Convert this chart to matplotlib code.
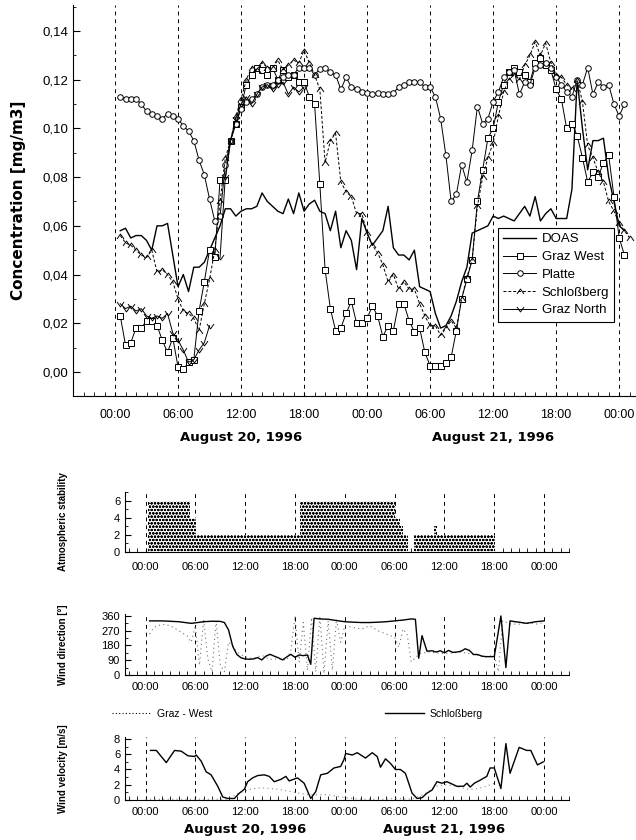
import numpy as np
import matplotlib
matplotlib.use('Agg')
import matplotlib.pyplot as plt
from matplotlib.path import Path
from matplotlib.lines import Line2D
from matplotlib.ticker import MultipleLocator, FuncFormatter

plt.rcParams['font.family'] = ['Liberation Sans', 'DejaVu Sans']
plt.rcParams['hatch.linewidth'] = 0.7

# ---------------------------------------------------------------- data
# hours since 00:00 August 20, 1996; half-hourly samples from 00:30
hour_ticks = [0, 6, 12, 18, 24, 30, 36, 42, 48]
hour_labels = ['00:00', '06:00', '12:00', '18:00', '00:00',
               '06:00', '12:00', '18:00', '00:00']
day_labels = ['August 20, 1996', 'August 21, 1996']
day_centers = [12, 36]

doas = [0.058, 0.059, 0.055, 0.056, 0.056, 0.054, 0.050, 0.060, 0.060, 0.061,
        0.048, 0.035, 0.040, 0.033, 0.043, 0.043, 0.045, 0.050, 0.055, 0.060,
        0.067, 0.067, 0.064, 0.066, 0.067, 0.067, 0.068, 0.0735, 0.070, 0.068,
        0.066, 0.065, 0.071, 0.065, 0.0735, 0.066, 0.069, 0.0705, 0.066, 0.065,
        0.058, 0.066, 0.051, 0.058, 0.054, 0.042, 0.063, 0.057, 0.052, 0.055,
        0.058, 0.068, 0.051, 0.048, 0.048, 0.046, 0.050, 0.035, 0.034, 0.033,
        0.024, 0.018, 0.019, 0.023, 0.029, 0.037, 0.043, 0.057, 0.058, 0.059,
        0.060, 0.064, 0.063, 0.064, 0.063, 0.062, 0.065, 0.068, 0.064, 0.072,
        0.062, 0.065, 0.067, 0.063, 0.063, 0.063, 0.075, 0.120, 0.100, 0.083,
        0.095, 0.095, 0.096, 0.080, 0.070, 0.060, 0.058]

graz_west = [0.023, 0.011, 0.012, 0.018, 0.018, 0.021, 0.021, 0.019, 0.013, 0.008,
             0.014, 0.002, 0.001, 0.004, 0.005, 0.025, 0.037, 0.050, 0.047, 0.079,
             0.079, 0.095, 0.102, 0.109, 0.118, 0.122, 0.125, 0.124, 0.122, 0.125,
             0.120, 0.124, 0.121, 0.122, 0.119, 0.119, 0.113, 0.110, 0.077, 0.042,
             0.026, 0.017, 0.018, 0.024, 0.029, 0.020, 0.020, 0.022, 0.027, 0.023,
             0.0145, 0.019, 0.017, 0.028, 0.028, 0.021, 0.0165, 0.018, 0.008, 0.0025,
             0.0025, 0.0025, 0.0035, 0.006, 0.017, 0.030, 0.038, 0.046, 0.070, 0.083,
             0.096, 0.100, 0.111, 0.118, 0.123, 0.125, 0.123, 0.122, 0.119, 0.127,
             0.129, 0.126, 0.124, 0.116, 0.112, 0.100, 0.102, 0.097, 0.088, 0.078,
             0.082, 0.080, 0.086, 0.089, 0.072, 0.055, 0.048]

platte = [0.113, 0.112, 0.112, 0.112, 0.110, 0.107, 0.106, 0.105, 0.104, 0.106,
          0.105, 0.104, 0.101, 0.099, 0.095, 0.087, 0.081, 0.071, 0.062, 0.064,
          0.085, 0.095, 0.102, 0.108, 0.111, 0.112, 0.114, 0.117, 0.118, 0.118,
          0.120, 0.121, 0.122, 0.122, 0.125, 0.125, 0.125, 0.122, 0.1245, 0.125,
          0.123, 0.122, 0.116, 0.121, 0.117, 0.116, 0.115, 0.1145, 0.114, 0.1145,
          0.114, 0.114, 0.1145, 0.117, 0.118, 0.119, 0.119, 0.119, 0.117, 0.117,
          0.113, 0.104, 0.089, 0.070, 0.073, 0.085, 0.078, 0.091, 0.109, 0.102,
          0.104, 0.111, 0.115, 0.121, 0.123, 0.124, 0.114, 0.119, 0.118, 0.125,
          0.126, 0.127, 0.125, 0.121, 0.118, 0.115, 0.113, 0.120, 0.118, 0.125,
          0.114, 0.119, 0.117, 0.118, 0.110, 0.105, 0.110]

schlossberg = [0.056, 0.053, 0.052, 0.050, 0.048, 0.047, 0.050, 0.041, 0.042, 0.040,
               0.037, 0.030, 0.025, 0.024, 0.022, 0.017, 0.028, 0.038, 0.050, 0.070,
               0.088, 0.095, 0.105, 0.112, 0.120, 0.125, 0.124, 0.127, 0.125, 0.125,
               0.128, 0.124, 0.126, 0.128, 0.127, 0.132, 0.127, 0.122, 0.116, 0.086,
               0.095, 0.098, 0.078, 0.074, 0.072, 0.065, 0.065, 0.057, 0.052, 0.049,
               0.044, 0.037, 0.040, 0.034, 0.037, 0.034, 0.034, 0.028, 0.023, 0.019,
               0.019, 0.015, 0.018, 0.021, 0.018, 0.030, 0.039, 0.046, 0.068, 0.080,
               0.088, 0.094, 0.105, 0.115, 0.120, 0.122, 0.120, 0.126, 0.130, 0.1355,
               0.130, 0.135, 0.127, 0.122, 0.121, 0.118, 0.116, 0.120, 0.111, 0.093,
               0.088, 0.082, 0.078, 0.070, 0.066, 0.061, 0.058, 0.055]

graz_north = [0.028, 0.026, 0.027, 0.025, 0.026, 0.023, 0.022, 0.023, 0.022, 0.024,
              0.016, 0.013, 0.009, 0.004, 0.005, 0.009, 0.012, 0.019, np.nan, 0.047,
              0.080, 0.095, 0.104, 0.110, 0.113, 0.110, 0.114, 0.117, 0.118, 0.116,
              0.118, 0.119, 0.114, 0.117, 0.115, 0.117]

# atmospheric stability class blocks (start hour, end hour, class)
stab_start = [0.25, 5.3, 6.1, 18.6, 30.1, 30.6, 31.0, 32.3, 34.8, 35.1]
stab_end = [5.3, 6.1, 18.6, 30.1, 30.6, 31.0, 31.6, 34.8, 35.1, 42.1]
stab_class = [6, 4, 2, 6, 4, 3, 2, 2, 3, 2]

# wind direction [deg]
dir_s_t = [0.5, 2, 4, 5.5, 6, 7, 8, 9, 9.5, 10, 10.5, 11, 11.5, 12, 12.5, 13, 13.5,
           14, 14.5, 15, 15.5, 16, 16.5, 17, 17.5, 18, 18.5, 19, 19.5, 19.9, 20.3,
           21, 22, 23, 24, 25, 26, 27, 28, 29, 30, 31, 32, 32.5, 32.9, 33.3, 33.9,
           34.5, 35, 35.5, 36, 36.5, 37, 37.5, 38, 38.5, 39, 39.5, 40, 40.5, 41, 42,
           42.8, 43.4, 43.9, 44.5, 45, 45.9, 47, 48]
dir_s = [330, 330, 325, 315, 318, 325, 328, 327, 320, 275, 175, 125, 105, 98, 96, 98,
         106, 92, 115, 126, 115, 105, 92, 110, 126, 108, 122, 118, 122, 65, 346,
         342, 340, 332, 325, 322, 320, 320, 322, 325, 330, 335, 342, 340, 102, 240,
         145, 148, 140, 148, 135, 150, 138, 140, 145, 160, 150, 125, 125, 115, 112,
         112, 360, 45, 330, 325, 322, 315, 325, 330]
dir_w_t = [0.5, 1, 2, 3, 4, 5, 5.5, 6, 6.5, 7, 7.5, 8, 8.5, 9, 9.5, 10, 10.5, 11,
           12, 13, 14, 15, 16, 17, 17.5, 18, 18.5, 19, 19.5, 20, 20.5, 21, 21.5, 22,
           22.5, 23, 23.5, 24, 25, 26, 27, 28, 29, 30, 30.5, 31, 31.5, 32, 33, 34,
           36, 38, 40, 41, 42, 42.5, 43, 44, 45, 46, 47, 48]
dir_w = [250, 290, 310, 300, 270, 240, 200, 300, 60, 340, 100, 20, 330, 60, 20, 200,
         180, 140, 110, 100, 120, 95, 100, 90, 150, 360, 80, 320, 30, 350, 20, 360,
         10, 330, 30, 340, 200, 300, 290, 280, 300, 270, 250, 230, 170, 280, 250, 80,
         130, 140, 130, 140, 120, 110, 120, 20, 330, 310, 310, 320, 310, 320]

# wind velocity [m/s]
vel_s_t = [0.6, 1.3, 2.5, 3.5, 4.3, 5.1, 5.9, 6.1, 6.7, 7.3, 7.9, 8.7, 9.3, 9.9,
           10.7, 11.3, 11.9, 12.3, 12.9, 13.5, 14.3, 14.9, 15.5, 16.3, 16.9, 17.3,
           18.3, 19.1, 19.9, 20.5, 21.1, 21.9, 22.7, 23.5, 23.9, 24.1, 24.9, 25.5,
           26.5, 27.3, 27.9, 28.3, 28.9, 29.5, 30.1, 30.7, 31.3, 32.1, 32.7, 33.3,
           33.9, 34.5, 35.1, 35.7, 36.3, 37.5, 38.3, 38.7, 39.1, 39.6, 40.3, 41.1,
           41.5, 42.0, 42.8, 43.4, 43.9, 45.0, 45.9, 46.4, 47.2, 47.9]
vel_s = [6.5, 6.5, 4.9, 6.5, 6.4, 5.8, 5.7, 5.9, 5.1, 3.7, 3.3, 1.8, 0.4, 0.2, 0.2,
         0.9, 1.4, 2.4, 2.9, 3.2, 3.3, 3.1, 2.4, 2.7, 3.1, 2.5, 2.9, 2.2, 0.2, 1.1,
         3.3, 3.5, 4.2, 4.4, 5.3, 6.1, 5.9, 6.2, 5.5, 6.2, 5.7, 4.3, 5.4, 4.8, 4.0,
         4.0, 3.5, 0.9, 0.2, 0.3, 0.9, 1.3, 2.4, 2.2, 2.4, 1.8, 1.8, 2.2, 1.7, 2.2,
         2.6, 3.1, 4.2, 4.2, 1.5, 7.4, 3.5, 6.9, 6.5, 6.5, 4.6, 5.0]
vel_w_t = [0, 2, 4, 6, 8, 10, 11, 12, 13, 14, 15, 16, 17, 18, 19, 20, 21, 22, 23, 24,
           26, 29, 30, 32, 33, 34, 35, 36, 37, 38, 39, 40, 41, 42]
vel_w = [0.1, 0.1, 0.1, 0.1, 0.1, 0.1, 0.8, 1.2, 1.5, 1.6, 1.5, 1.4, 1.2, 1.0, 0.8,
         0.7, 0.7, 0.7, 0.5, 0.3, 0.1, 0.1, 0.2, 0.1, 0.5, 1.0, 1.8, 2.0, 1.9, 1.6,
         1.4, 1.5, 1.8, 2.2]

# ---------------------------------------------------------------- figure
fig = plt.figure(figsize=(6.36, 8.40), dpi=100)

chev_up = Path([(-1.0, -0.7), (0.0, 0.7), (1.0, -0.7)],
               [Path.MOVETO, Path.LINETO, Path.LINETO])
chev_dn = Path([(-1.0, 0.7), (0.0, -0.7), (1.0, 0.7)],
               [Path.MOVETO, Path.LINETO, Path.LINETO])


def half_hours(vals):
    return 0.5 + 0.5 * np.arange(len(vals))


def style_time_axis(ax, pad):
    for s in ['top', 'right']:
        ax.spines[s].set_visible(False)
    ax.set_xticks(hour_ticks)
    ax.set_xticklabels(hour_labels)
    ax.xaxis.set_minor_locator(MultipleLocator(1))
    ax.tick_params(axis='x', which='both', direction='in', length=3, pad=pad)
    ax.tick_params(axis='y', which='major', direction='in', length=4)
    ax.tick_params(axis='y', which='minor', direction='in', length=2)
    for h in hour_ticks:
        ax.axvline(h, color='k', ls=(0, (4, 4)), lw=0.7, zorder=0.5)


################################ concentration ###################
ax = fig.add_axes([73 / 636, 1 - 396 / 840, 563 / 636, 391 / 840])
style_time_axis(ax, 9)
ax.tick_params(axis='x', labelsize=9)
ax.tick_params(axis='y', labelsize=9.5, length=5)

ax.plot(half_hours(doas), doas, 'k-', lw=1.0, label='DOAS')
ax.plot(half_hours(graz_west), graz_west, 'k-', lw=0.7, marker='s', ms=4,
        mfc='white', mew=0.7, label='Graz West')
ax.plot(half_hours(platte), platte, 'k-', lw=0.7, marker='o', ms=4,
        mfc='white', mew=0.7, label='Platte')
ax.plot(half_hours(schlossberg), schlossberg, color='k', ls=(0, (3, 2)), lw=0.7,
        marker=chev_up, ms=5, mfc='none', mew=0.7, label='Schloßberg')
ax.plot(half_hours(graz_north), graz_north, 'k-', lw=0.7,
        marker=chev_dn, ms=5, mfc='none', mew=0.7, label='Graz North')

ax.set_xlim(-4, 49.6)
ax.set_ylim(-0.0099, 0.1507)
ax.set_yticks([0.0, 0.02, 0.04, 0.06, 0.08, 0.10, 0.12, 0.14])
ax.yaxis.set_major_formatter(FuncFormatter(lambda v, p: ('%.2f' % v).replace('.', ',')))
ax.yaxis.set_minor_locator(MultipleLocator(0.01))
ax.set_ylabel('Concentration [mg/m3]', family='DejaVu Sans', fontweight='bold',
              fontsize=11, labelpad=12)

for c, lab in zip(day_centers, day_labels):
    ax.text(c, -0.105, lab, transform=ax.get_xaxis_transform(), ha='center',
            va='center', family='DejaVu Sans', fontweight='bold', fontsize=9.5)

lg = ax.legend(loc='upper left', bbox_to_anchor=(0.755, 0.43), borderaxespad=0,
               fontsize=9.5, handlelength=2.5, handletextpad=0.4,
               labelspacing=0.42, fancybox=False, edgecolor='k', framealpha=1)
lg.get_frame().set_linewidth(0.8)

################################ lower panels ###################
left = 125 / 636
width = 444 / 636
xl = (-2.47, 51.0)

# stability
ax1 = fig.add_axes([left, 1 - 552 / 840, width, 60 / 840])
style_time_axis(ax1, 7)
ax1.bar(stab_start, stab_class, width=np.array(stab_end) - np.array(stab_start),
        align='edge', color='white', edgecolor='k', hatch='ooooo', lw=0, zorder=2)
ax1.set_xlim(*xl)
ax1.set_ylim(0, 7)
ax1.set_yticks([0, 2, 4, 6])
ax1.yaxis.set_minor_locator(MultipleLocator(1))
ax1.set_ylabel('Atmospheric stability', fontweight='bold', fontsize=7)

# direction
ax2 = fig.add_axes([left, 1 - 675 / 840, width, 61 / 840])
style_time_axis(ax2, 5)
ax2.plot(dir_w_t, dir_w, color='0.45', ls=(0, (1, 3)), lw=0.8)
ax2.plot(dir_s_t, dir_s, 'k-', lw=1.0)
ax2.set_xlim(*xl)
ax2.set_ylim(0, 372)
ax2.set_yticks([0, 90, 180, 270, 360])
ax2.yaxis.set_minor_locator(MultipleLocator(45))
ax2.set_ylabel('Wind direction [°]', fontweight='bold', fontsize=7)

# velocity
ax3 = fig.add_axes([left, 1 - 800 / 840, width, 63 / 840])
style_time_axis(ax3, 5)
ax3.plot(vel_w_t, vel_w, color='0.55', ls=(0, (1, 3)), lw=0.8)
ax3.plot(vel_s_t, vel_s, 'k-', lw=1.0)
ax3.set_xlim(*xl)
ax3.set_ylim(0, 8.26)
ax3.set_yticks([0, 2, 4, 6, 8])
ax3.yaxis.set_minor_locator(MultipleLocator(1))
ax3.set_ylabel('Wind velocity [m/s]', fontweight='bold', fontsize=7)

for c, lab in zip(day_centers, day_labels):
    ax3.text(c, -0.476, lab, transform=ax3.get_xaxis_transform(), ha='center',
             va='center', family='DejaVu Sans', fontweight='bold', fontsize=9.5)

for a in (ax1, ax2, ax3):
    a.tick_params(labelsize=8)
    a.yaxis.set_label_coords(-0.128, 0.5)

handles = [Line2D([], [], color='k', ls=(0, (1, 2)), lw=0.8),
           Line2D([], [], color='k', ls='-', lw=1.0)]
fig.legend(handles, ['Graz - West', 'Schloßberg'], loc='center left',
           bbox_to_anchor=(112 / 636, 1 - 714 / 840), ncol=2, frameon=False,
           fontsize=7.5, handlelength=3.8, handletextpad=0.55, columnspacing=16.5,
           borderpad=0, borderaxespad=0)

plt.savefig('out.png', dpi=100)
